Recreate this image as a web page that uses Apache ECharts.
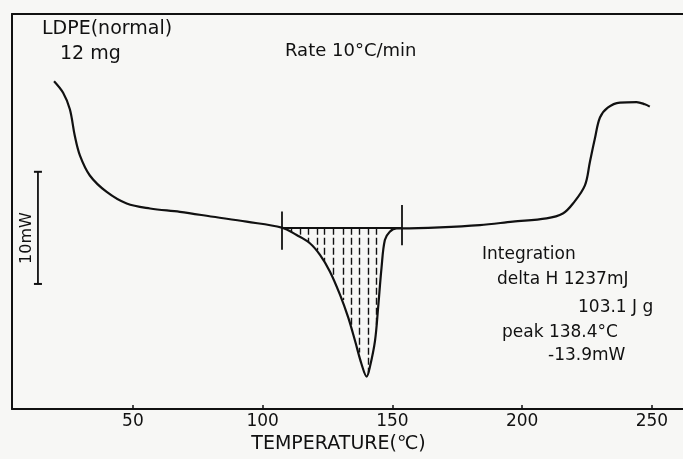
<!DOCTYPE html>
<html>
<head>
<meta charset="utf-8">
<script src="https://cdn.jsdelivr.net/npm/echarts@6.0.0/dist/echarts.min.js"></script>
<style>
html,body{margin:0;padding:0;background:#f7f7f5;}
#chart{width:683px;height:459px;}
</style>
</head>
<body>
<div id="chart"></div>
<script>
// DSC trace (temperature in C, heat flow in mW, arbitrary offset)
var curveT = [19.6, 23.1, 25.7, 27.6, 29.6, 33.4, 39.9, 47.6, 56.6, 68.1, 80.9, 93.8, 107.4,
  113.1, 118.2, 122.1, 125.9, 129.8, 133.0, 135.6, 138.1, 140.1, 141.3, 143.3, 144.5, 145.8,
  147.1, 149.0, 151.6, 153.5, 168.3, 183.7, 196.4, 209.4, 215.7, 219.6, 224.2, 226.1, 228.0,
  230.0, 233.0, 237.7, 244.1, 247.3, 249.2];
var curveMW = [29.23, 28.20, 26.73, 24.36, 22.59, 20.82, 19.35, 18.32, 17.88, 17.58, 17.14, 16.70, 16.17,
  15.51, 14.78, 13.74, 12.27, 10.20, 8.14, 6.08, 4.01, 2.89, 3.72, 6.08, 9.03, 12.57,
  15.07, 15.81, 16.11, 16.11, 16.20, 16.40, 16.70, 16.99, 17.43, 18.32, 19.94, 22.01, 24.07,
  25.99, 26.88, 27.32, 27.37, 27.17, 26.96];

// integration limits and baseline
var limitT = [107.4, 153.7];
var limitLow = [14.2, 14.6];
var limitHigh = [17.6, 18.2];
var baseMW = 16.17;

// hatch lines under the baseline (x position, lower end)
var hatchT = [111.1, 114.3, 117.7, 120.9, 123.9, 127.1, 130.9, 134.2, 137.4, 140.6, 143.9];
var hatchMW = [15.75, 15.40, 14.87, 14.16, 13.19, 11.86, 9.73, 7.52, 5.04, 3.27, 7.26];

// 10 mW scale bar
var scaleT = 13.4;
var scaleMW = [11.15, 21.15];

var tickVals = [50, 100, 150, 200, 250];

var chart = echarts.init(document.getElementById('chart'));
var font = 'DejaVu Sans';
var ink = '#111';

var marks = [];
marks.push([{coord: [limitT[0], baseMW]}, {coord: [limitT[1], baseMW]}]);
for (var i = 0; i < limitT.length; i++) {
    marks.push([{coord: [limitT[i], limitLow[i]]}, {coord: [limitT[i], limitHigh[i]]}]);
}
var hatch = hatchT.map(function (t, i) {
    return [{coord: [t, baseMW]}, {coord: [t, hatchMW[i]]}];
});

var option = {
    backgroundColor: '#f7f7f5',
    animation: false,
    grid: {left: 12, right: 0, top: 14, bottom: 47},
    xAxis: [{
        type: 'value',
        min: 3.4,
        max: 262,
        position: 'bottom',
        axisLine: {show: true, lineStyle: {color: ink, width: 2}},
        axisTick: {show: true, inside: true, length: 4, customValues: tickVals, lineStyle: {color: ink, width: 1.5}},
        axisLabel: {customValues: tickVals, color: ink, fontSize: 17, fontFamily: font, margin: 4},
        splitLine: {show: false},
        name: 'TEMPERATURE(\u2103)',
        nameLocation: 'middle',
        nameGap: 26,
        nameTextStyle: {color: ink, fontSize: 19, fontFamily: font, padding: [0, 18, 0, 0]}
    }, {
        type: 'value',
        min: 3.4,
        max: 262,
        position: 'top',
        axisLine: {show: true, lineStyle: {color: ink, width: 2}},
        axisTick: {show: false},
        axisLabel: {show: false},
        splitLine: {show: false}
    }],
    yAxis: {
        type: 'value',
        min: 0,
        max: 35.22,
        axisLine: {show: true, lineStyle: {color: ink, width: 2}},
        axisTick: {show: false},
        axisLabel: {show: false},
        splitLine: {show: false}
    },
    series: [{
        type: 'line',
        data: curveT.map(function (t, i) { return [t, curveMW[i]]; }),
        smooth: 0.35,
        showSymbol: false,
        lineStyle: {color: ink, width: 2.2},
        markLine: {
            silent: true,
            symbol: 'none',
            label: {show: false},
            lineStyle: {color: ink, width: 1.8, type: 'solid'},
            data: marks
        },
        z: 3
    }, {
        type: 'line',
        data: [],
        markLine: {
            silent: true,
            symbol: 'none',
            label: {show: false},
            lineStyle: {color: ink, width: 1.4, type: [7, 3]},
            data: hatch
        },
        z: 2
    }, {
        type: 'line',
        data: scaleMW.map(function (v) { return [scaleT, v]; }),
        symbol: 'rect',
        symbolSize: [8, 2],
        itemStyle: {color: ink},
        lineStyle: {color: ink, width: 1.8}
    }],
    graphic: [
        {type: 'text', left: 42, top: 20, style: {text: 'LDPE(normal)', font: '19px ' + font, fill: ink}},
        {type: 'text', left: 60, top: 45, style: {text: '12 mg', font: '19px ' + font, fill: ink}},
        {type: 'text', left: 285, top: 42, style: {text: 'Rate 10\u00b0C/min', font: '18px ' + font, fill: ink}},
        {type: 'text', x: 27, y: 238, rotation: Math.PI / 2,
            style: {text: '10mW', font: '16px ' + font, fill: ink, align: 'center', verticalAlign: 'middle'}},
        {type: 'text', left: 482, top: 246, style: {text: 'Integration', font: '17px ' + font, fill: ink}},
        {type: 'text', left: 497, top: 271, style: {text: 'delta H 1237mJ', font: '17px ' + font, fill: ink}},
        {type: 'text', left: 578, top: 299, style: {text: '103.1 J g', font: '17px ' + font, fill: ink}},
        {type: 'text', left: 502, top: 324, style: {text: 'peak 138.4\u00b0C', font: '17px ' + font, fill: ink}},
        {type: 'text', left: 548, top: 347, style: {text: '-13.9mW', font: '17px ' + font, fill: ink}}
    ]
};
chart.setOption(option);
</script>
</body>
</html>
